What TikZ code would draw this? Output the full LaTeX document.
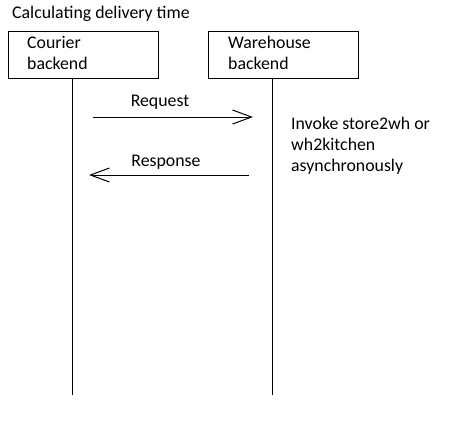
\documentclass[tikz,border=0pt]{standalone}
\usepackage{fontspec}
\setmainfont{Carlito}
\usetikzlibrary{arrows.meta}
\begin{document}
\begin{tikzpicture}[x=1pt,y=-1pt,
  every node/.style={inner sep=0pt,font=\fontsize{17.8}{21}\selectfont},
  lbl/.style={anchor=base west},
  actor/.style={draw,line width=1pt,minimum width=150pt,minimum height=47pt,anchor=north west},
  life/.style={line width=1pt},
  msg/.style={line width=1pt,-{Straight Barb[length=19pt,width=14pt,line width=1pt]}}]
\useasboundingbox (0,0) rectangle (450,424);
\node[lbl] (title) at (12,18) {Calculating delivery time};
\node[actor] (cb) at (8,31) {};
\node[actor] (wb) at (208,31) {};
\node[lbl] (cb1) at (27,48) {Courier};
\node[lbl] (cb2) at (27,69) {backend};
\node[lbl] (wb1) at (228,48) {Warehouse};
\node[lbl] (wb2) at (228,69) {backend};
\coordinate (cend) at (72,395);
\coordinate (wend) at (272,395);
\draw[life] (cb.south -| cend) -- (cend);
\draw[life] (wb.south -| wend) -- (wend);
\coordinate (rq1) at (93,117);
\coordinate (rq2) at (253,117);
\coordinate (rs1) at (249,175);
\coordinate (rs2) at (89,175);
\draw[msg] (rq1) -- (rq2);
\draw[msg] (rs1) -- (rs2);
\node[anchor=base] (req) at (160,106) {Request};
\node[anchor=base] (resp) at (166,166) {Response};
\node[lbl] (inv1) at (291,129) {Invoke store2wh or};
\node[lbl] (inv2) at (291,150) {wh2kitchen};
\node[lbl] (inv3) at (291,171) {asynchronously};
\end{tikzpicture}
\end{document}
